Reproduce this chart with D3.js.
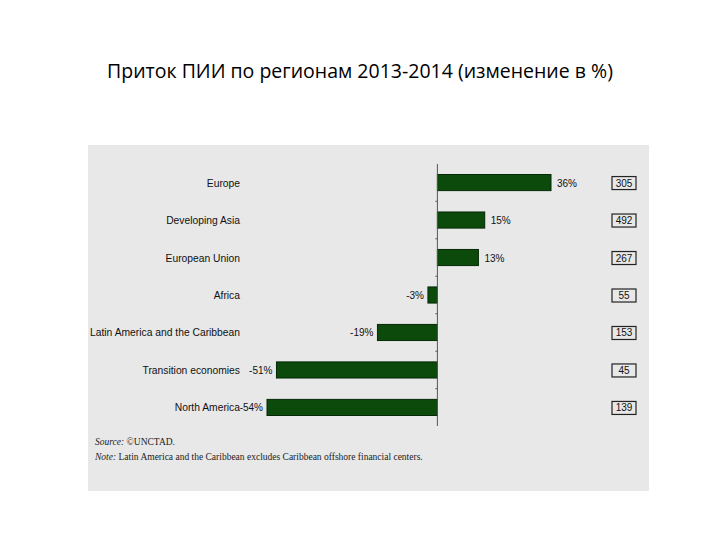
<!DOCTYPE html>
<html><head><meta charset="utf-8">
<script src="https://cdn.jsdelivr.net/npm/d3@7"></script>
<style>body{margin:0;background:#fff}</style></head>
<body><svg id="c" width="720" height="540"></svg>
<script>
const regions=["Europe","Developing Asia","European Union","Africa","Latin America and the Caribbean","Transition economies","North America"];
const changes=[36,15,13,-3,-19,-51,-54];
const inflows=[305,492,267,55,153,45,139];
const title="Приток ПИИ по регионам 2013-2014 (изменение в %)";

const svg=d3.select("#c");
svg.append("text").attr("x",360).attr("y",78).attr("text-anchor","middle")
 .attr("font-family","Open Sans, sans-serif").attr("font-size",19.5).attr("font-weight",500).attr("fill","#000").text(title);
svg.append("rect").attr("x",88).attr("y",145).attr("width",561).attr("height",346).attr("fill","#e8e8e8");

const x=d3.scaleLinear().domain([-54,36]).range([267,551]);
const y=d3.scaleBand().domain(regions).range([164,426]).paddingInner(0.57).paddingOuter(0.28);
const g=svg.append("g");
g.selectAll("rect.bar").data(regions).join("rect").attr("class","bar")
 .attr("x",(d,i)=>Math.min(x(0),x(changes[i]))).attr("width",(d,i)=>Math.abs(x(changes[i])-x(0)))
 .attr("y",d=>y(d)).attr("height",y.bandwidth()).attr("fill","#0b4a0b").attr("stroke","#062806");
g.append("line").attr("x1",x(0)).attr("x2",x(0)).attr("y1",164).attr("y2",426).attr("stroke","#555");
const step=y.step();
regions.slice(1).forEach((d,i)=>g.append("line").attr("x1",x(0)-2).attr("x2",x(0)).attr("y1",y(d)-(step-y.bandwidth())/2).attr("y2",y(d)-(step-y.bandwidth())/2).attr("stroke","#555"));
const f="Liberation Sans, Arial, sans-serif";
g.selectAll("text.cat").data(regions).join("text").attr("class","cat")
 .attr("x",240).attr("y",d=>y(d)+y.bandwidth()/2+4).attr("text-anchor","end")
 .attr("font-family",f).attr("font-size",10.3).attr("fill","#111").text(d=>d);
g.selectAll("text.val").data(regions).join("text").attr("class","val")
 .attr("x",(d,i)=>changes[i]>=0?x(changes[i])+6:x(changes[i])-4)
 .attr("y",d=>y(d)+y.bandwidth()/2+4).attr("text-anchor",(d,i)=>changes[i]>=0?"start":"end")
 .attr("font-family",f).attr("font-size",10).attr("fill","#111").text((d,i)=>changes[i]+"%");
const bx=g.selectAll("g.box").data(regions).join("g").attr("class","box");
bx.append("rect").attr("x",612).attr("y",d=>y(d)+y.bandwidth()/2-6).attr("width",24).attr("height",13)
 .attr("fill","none").attr("stroke","#222").attr("stroke-width",1.2);
bx.append("text").attr("x",624).attr("y",d=>y(d)+y.bandwidth()/2+4).attr("text-anchor","middle")
 .attr("font-family",f).attr("font-size",10).attr("fill","#111").text((d,i)=>inflows[i]);
const s="Liberation Serif, Times New Roman, serif";
const t1=g.append("text").attr("x",95).attr("y",445).attr("font-family",s).attr("font-size",9.5).attr("fill","#222");
t1.append("tspan").attr("font-style","italic").text("Source: ");t1.append("tspan").text("©UNCTAD.");
const t2=g.append("text").attr("x",95).attr("y",460).attr("font-family",s).attr("font-size",9.5).attr("fill","#222");
t2.append("tspan").attr("font-style","italic").text("Note: ");t2.append("tspan").text("Latin America and the Caribbean excludes Caribbean offshore financial centers.");
</script></body></html>
